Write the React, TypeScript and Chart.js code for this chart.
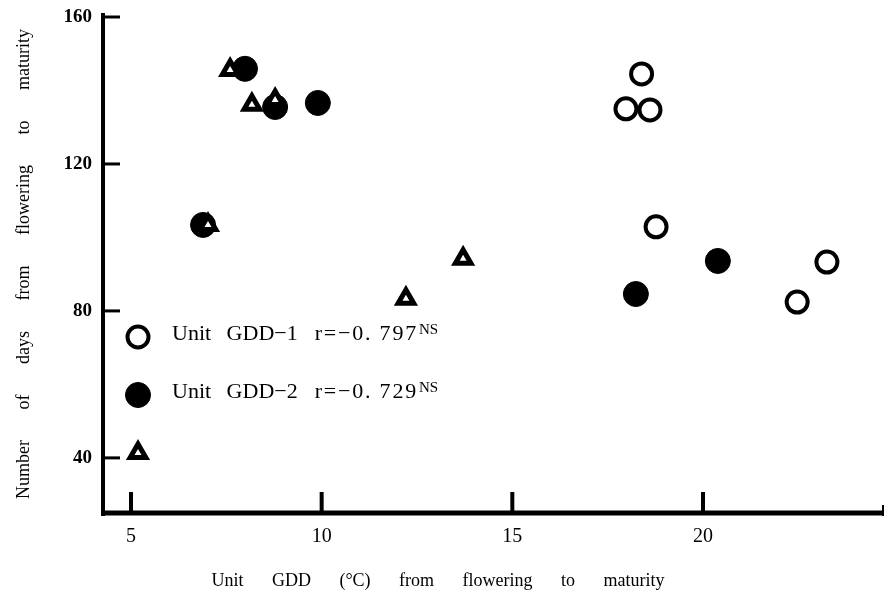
import React, { useEffect, useRef } from 'react';
import { Chart, registerables } from 'chart.js';
import { drawPoint } from 'chart.js/helpers';

Chart.register(...registerables);

// ---- data ----
const gdd1X = [18.39, 17.98, 18.61, 18.77, 23.25, 22.47];
const gdd1Y = [144.5, 135.0, 134.7, 102.9, 93.3, 82.4];
const gdd2X = [7.99, 8.78, 9.9, 6.89, 18.24, 20.39];
const gdd2Y = [145.9, 135.5, 136.6, 103.4, 84.6, 93.6];
const gdd3X = [7.6, 8.17, 8.78, 7.02, 12.21, 13.71];
const gdd3Y = [145.6, 136.1, 137.4, 103.4, 83.3, 94.2];

const seriesLabels = ['Unit GDD−1', 'Unit GDD−2', ''];
const rValues = ['r=−0. 797', 'r=−0. 729', ''];
const rSignificance = ['NS', 'NS', ''];

const xTicks = [5, 10, 15, 20];
const yTicks = [40, 80, 120, 160];
const xTitle = 'Unit GDD (°C) from flowering to maturity';
const yTitle = 'Number of days from flowering to maturity';

const FONT = "'Liberation Serif', 'DejaVu Serif', 'Times New Roman', serif";

const toPoints = (xs: number[], ys: number[]) => xs.map((x, i) => ({ x, y: ys[i] }));

const paperPlugin = {
  id: 'paperAxes',
  beforeDatasetsDraw(chart: any) {
    const { ctx, chartArea: a, scales } = chart;
    const x = scales.x;
    const y = scales.y;
    ctx.save();
    ctx.strokeStyle = '#000';
    ctx.lineCap = 'butt';
    // y axis line
    ctx.lineWidth = 4;
    ctx.beginPath();
    ctx.moveTo(a.left, a.top - 4);
    ctx.lineTo(a.left, a.bottom + 3);
    ctx.stroke();
    // x axis line
    ctx.lineWidth = 5;
    ctx.beginPath();
    ctx.moveTo(a.left - 2, a.bottom);
    ctx.lineTo(a.right, a.bottom);
    ctx.stroke();
    // small upturn at right end
    ctx.lineWidth = 2;
    ctx.beginPath();
    ctx.moveTo(a.right - 1, a.bottom + 3);
    ctx.lineTo(a.right - 1, a.bottom - 8);
    ctx.stroke();
    // inward y ticks
    ctx.lineWidth = 3;
    for (const t of y.ticks) {
      const py = y.getPixelForValue(t.value);
      ctx.beginPath();
      ctx.moveTo(a.left, py);
      ctx.lineTo(a.left + 17, py);
      ctx.stroke();
    }
    // inward x ticks
    ctx.lineWidth = 4;
    for (const t of x.ticks) {
      const px = x.getPixelForValue(t.value);
      ctx.beginPath();
      ctx.moveTo(px, a.bottom);
      ctx.lineTo(px, a.bottom - 21);
      ctx.stroke();
    }
    // axis titles
    ctx.fillStyle = '#000';
    ctx.font = `18px ${FONT}`;
    ctx.textAlign = 'center';
    ctx.textBaseline = 'middle';
    (ctx as any).wordSpacing = '24px';
    ctx.fillText(xTitle, a.left + 335, a.bottom + 68);
    ctx.save();
    ctx.translate(24, a.top + 247);
    ctx.rotate(-Math.PI / 2);
    (ctx as any).wordSpacing = '26px';
    ctx.fillText(yTitle, 0, 0);
    ctx.restore();
    ctx.restore();
  },
  afterDatasetsDraw(chart: any) {
    const { ctx, chartArea: a } = chart;
    ctx.save();
    const mx = a.left + 35;
    const tx = a.left + 69;
    const rows = [a.top + 320, a.top + 378, a.top + 436];
    chart.data.datasets.forEach((ds: any, i: number) => {
      const my = rows[i];
      ctx.fillStyle = ds.backgroundColor;
      ctx.strokeStyle = ds.borderColor;
      ctx.lineWidth = ds.borderWidth;
      drawPoint(ctx, { pointStyle: ds.pointStyle, radius: ds.pointRadius, borderWidth: ds.borderWidth, rotation: 0 } as any, mx, my);
      if (!seriesLabels[i]) return;
      ctx.fillStyle = '#000';
      ctx.font = `22px ${FONT}`;
      ctx.textAlign = 'left';
      ctx.textBaseline = 'alphabetic';
      const base = my + 3;
      (ctx as any).wordSpacing = '10px';
      (ctx as any).letterSpacing = '0px';
      ctx.fillText(seriesLabels[i], tx, base);
      const w1 = ctx.measureText(seriesLabels[i]).width;
      const rx = tx + w1 + 17;
      (ctx as any).wordSpacing = '0px';
      (ctx as any).letterSpacing = '1.8px';
      ctx.fillText(rValues[i], rx, base);
      const w2 = ctx.measureText(rValues[i]).width;
      (ctx as any).letterSpacing = '0px';
      if (rSignificance[i]) {
        ctx.font = `15px ${FONT}`;
        ctx.fillText(rSignificance[i], rx + w2 + 1, base - 6);
      }
    });
    ctx.restore();
  },
};

export default function App() {
  const ref = useRef<HTMLCanvasElement | null>(null);

  useEffect(() => {
    if (!ref.current) return;
    const chart = new Chart(ref.current, {
      type: 'scatter',
      data: {
        datasets: [
          {
            label: seriesLabels[0],
            data: toPoints(gdd1X, gdd1Y),
            pointStyle: 'circle',
            pointRadius: 10.5,
            borderWidth: 4,
            borderColor: '#000',
            backgroundColor: '#fff',
            order: 2,
          } as any,
          {
            label: seriesLabels[1],
            data: toPoints(gdd2X, gdd2Y),
            pointStyle: 'circle',
            pointRadius: 12.5,
            borderWidth: 1,
            borderColor: '#000',
            backgroundColor: '#000',
            order: 1,
          },
          {
            label: seriesLabels[2],
            data: toPoints(gdd3X, gdd3Y),
            pointStyle: 'triangle',
            pointRadius: 9,
            borderWidth: 5,
            borderColor: '#000',
            backgroundColor: '#fff',
            order: 0,
          },
        ],
      },
      options: {
        responsive: false,
        animation: false,
        devicePixelRatio: 1,
        layout: { autoPadding: false, padding: { top: 17, right: 2, bottom: 0, left: 0 } },
        plugins: { legend: { display: false }, tooltip: { enabled: false } },
        scales: {
          x: {
            type: 'linear',
            min: 4.266,
            max: 24.747,
            afterBuildTicks: (s: any) => {
              s.ticks = xTicks.map((value) => ({ value }));
            },
            afterFit: (s: any) => {
              s.height = 85;
              s.paddingLeft = 0;
              s.paddingRight = 0;
            },
            grid: { display: false, drawTicks: false },
            border: { display: false },
            ticks: {
              color: '#000',
              font: { family: FONT, size: 20 },
              padding: 12,
              autoSkip: false,
              maxRotation: 0,
            },
          },
          y: {
            type: 'linear',
            min: 25,
            max: 160,
            afterBuildTicks: (s: any) => {
              s.ticks = yTicks.map((value) => ({ value }));
            },
            afterFit: (s: any) => {
              s.width = 103;
              s.paddingTop = 0;
              s.paddingBottom = 0;
            },
            grid: { display: false, drawTicks: false },
            border: { display: false },
            ticks: {
              color: '#000',
              font: { family: FONT, size: 19, weight: 'bold' },
              padding: 11,
              autoSkip: false,
            },
          },
        },
      },
      plugins: [paperPlugin as any],
    });
    return () => chart.destroy();
  }, []);

  return (
    <div style={{ position: 'absolute', left: 0, top: 0, width: 886, height: 598, background: '#fff' }}>
      <canvas ref={ref} width={886} height={598} style={{ display: 'block' }} />
    </div>
  );
}
